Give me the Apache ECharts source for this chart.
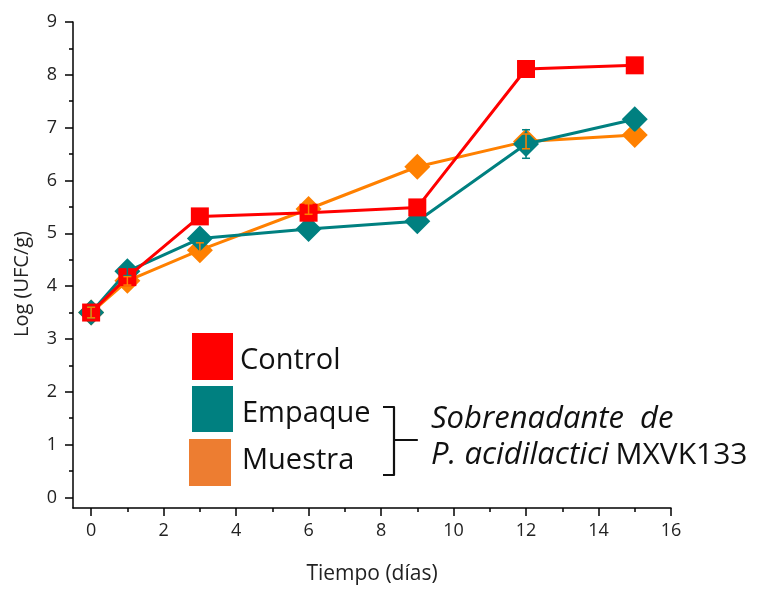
<!DOCTYPE html>
<html>
<head>
<meta charset="utf-8">
<script src="https://cdn.jsdelivr.net/npm/echarts@6/dist/echarts.min.js"></script>
<style>
  html, body { margin: 0; padding: 0; background: #fff; }
  #chart { width: 763px; height: 590px; }
</style>
</head>
<body>
<div id="chart"></div>
<script>
// Sampling days
const days = [0, 1, 3, 6, 9, 12, 15];

// Log (UFC/g) per treatment
const controlValues = [3.5, 4.17, 5.32, 5.39, 5.49, 8.11, 8.18];
const empaqueValues = [3.5, 4.28, 4.9, 5.08, 5.23, 6.69, 7.16];
const muestraValues = [3.5, 4.1, 4.68, 5.46, 6.26, 6.74, 6.86];

// Standard deviations
const controlErrors = [0.1, 0.08, 0.05, 0.08, 0.05, 0.05, 0.05];
const empaqueErrors = [0.1, 0.08, 0.1, 0.05, 0.05, 0.27, 0.05];
const muestraErrors = [0.1, 0.08, 0.14, 0.1, 0.05, 0.14, 0.05];

// Series names
const seriesNames = ['Control', 'Empaque', 'Muestra'];

// Axis ticks
const yMajor = [0, 1, 2, 3, 4, 5, 6, 7, 8, 9];
const yMinor = [0.5, 1.5, 2.5, 3.5, 4.5, 5.5, 6.5, 7.5, 8.5];
const xMajor = [0, 2, 4, 6, 8, 10, 12, 14, 16];
const xMinor = [1, 3, 5, 7, 9, 11, 13, 15];

const colors = { Control: '#FF0000', Empaque: '#008080', Muestra: '#FF8000' };
const legendColors = { Control: '#FF0000', Empaque: '#008080', Muestra: '#ED7D31' };

const FONT = '"Open Sans", "Noto Sans", sans-serif';

function pairs(vals) {
  return days.map((d, i) => [d, vals[i]]);
}
function errorRows(vals, errs) {
  return days.map((d, i) => [d, vals[i] - errs[i], vals[i] + errs[i]]);
}

function errorBarSeries(name, vals, errs) {
  return {
    type: 'custom',
    name: name + ' SD',
    xAxisIndex: 0,
    yAxisIndex: 0,
    z: 10,
    silent: true,
    data: errorRows(vals, errs),
    renderItem: function (params, api) {
      const x = api.value(0);
      const lo = api.coord([x, api.value(1)]);
      const hi = api.coord([x, api.value(2)]);
      const w = 4;
      const style = { stroke: colors[name], lineWidth: 1.5 };
      return {
        type: 'group',
        children: [
          { type: 'line', shape: { x1: lo[0], y1: lo[1], x2: hi[0], y2: hi[1] }, style: style },
          { type: 'line', shape: { x1: lo[0] - w, y1: lo[1], x2: lo[0] + w, y2: lo[1] }, style: style },
          { type: 'line', shape: { x1: hi[0] - w, y1: hi[1], x2: hi[0] + w, y2: hi[1] }, style: style }
        ]
      };
    }
  };
}

const axisLineStyle = { color: '#000', width: 1.5 };
const labelStyle = { color: '#222', fontSize: 18, fontFamily: FONT };

const option = {
  backgroundColor: '#fff',
  animation: false,
  grid: { left: 73, right: 92, top: 22, bottom: 80 },
  xAxis: [
    {
      type: 'value', min: -0.5, max: 16, position: 'bottom',
      axisLine: { show: true, onZero: false, lineStyle: axisLineStyle },
      axisTick: { show: true, length: 8, customValues: xMajor, lineStyle: axisLineStyle },
      axisLabel: Object.assign({ customValues: xMajor, margin: 14 }, labelStyle),
      splitLine: { show: false },
      name: 'Tiempo (días)', nameLocation: 'middle', nameGap: 56,
      nameTextStyle: { color: '#222', fontSize: 21, fontFamily: FONT }
    },
    {
      type: 'value', min: -0.5, max: 16, position: 'bottom',
      axisLine: { show: false, onZero: false },
      axisTick: { show: true, length: 4, customValues: xMinor, lineStyle: axisLineStyle },
      axisLabel: { show: false },
      splitLine: { show: false }
    }
  ],
  yAxis: [
    {
      type: 'value', min: -0.2, max: 9, position: 'left',
      axisLine: { show: true, onZero: false, lineStyle: axisLineStyle },
      axisTick: { show: true, length: 8, customValues: yMajor, lineStyle: axisLineStyle },
      axisLabel: Object.assign({ customValues: yMajor, margin: 16 }, labelStyle),
      splitLine: { show: false }
    },
    {
      type: 'value', min: -0.2, max: 9, position: 'left',
      axisLine: { show: false, onZero: false },
      axisTick: { show: true, length: 4, customValues: yMinor, lineStyle: axisLineStyle },
      axisLabel: { show: false },
      splitLine: { show: false }
    }
  ],
  series: [
    {
      name: seriesNames[2], type: 'line', z: 2, data: pairs(muestraValues),
      symbol: 'diamond', symbolSize: 26,
      lineStyle: { color: colors.Muestra, width: 3 },
      itemStyle: { color: colors.Muestra }
    },
    {
      name: seriesNames[1], type: 'line', z: 3, data: pairs(empaqueValues),
      symbol: 'diamond', symbolSize: 26,
      lineStyle: { color: colors.Empaque, width: 3 },
      itemStyle: { color: colors.Empaque }
    },
    {
      name: seriesNames[0], type: 'line', z: 4, data: pairs(controlValues),
      symbol: 'rect', symbolSize: 18,
      lineStyle: { color: colors.Control, width: 3 },
      itemStyle: { color: colors.Control }
    },
    errorBarSeries('Control', controlValues, controlErrors),
    errorBarSeries('Empaque', empaqueValues, empaqueErrors),
    errorBarSeries('Muestra', muestraValues, muestraErrors)
  ],
  graphic: [
    // vertical axis title
    {
      type: 'text', x: 22, y: 284, rotation: Math.PI / 2,
      style: {
        text: 'Log (UFC/g)', fill: '#222', fontSize: 20, fontFamily: FONT,
        align: 'center', verticalAlign: 'middle'
      }
    },
    // key swatches
    { type: 'rect', shape: { x: 192, y: 333, width: 41, height: 47 }, style: { fill: legendColors.Control } },
    { type: 'rect', shape: { x: 192, y: 386, width: 41, height: 46 }, style: { fill: legendColors.Empaque } },
    { type: 'rect', shape: { x: 189, y: 439, width: 42, height: 47 }, style: { fill: legendColors.Muestra } },
    // key labels
    { type: 'text', x: 240, y: 361, style: { text: seriesNames[0], fill: '#111', fontSize: 29, fontFamily: FONT, verticalAlign: 'middle' } },
    { type: 'text', x: 242, y: 414, style: { text: seriesNames[1], fill: '#111', fontSize: 29, fontFamily: FONT, verticalAlign: 'middle' } },
    { type: 'text', x: 242, y: 461, style: { text: seriesNames[2], fill: '#111', fontSize: 29, fontFamily: FONT, verticalAlign: 'middle' } },
    // brace grouping the two treatments
    {
      type: 'polyline',
      shape: { points: [[383, 407], [394, 407], [394, 440], [417, 440], [394, 440], [394, 475], [383, 475]] },
      style: { stroke: '#111', lineWidth: 2.2, fill: null, lineJoin: 'round' }
    },
    {
      type: 'text', x: 431, y: 419,
      style: { text: 'Sobrenadante  de', fill: '#111', fontSize: 31, fontStyle: 'italic', fontFamily: FONT, verticalAlign: 'middle' }
    },
    {
      type: 'text', x: 431, y: 455,
      style: {
        rich: {
          i: { fontStyle: 'italic', fontSize: 31, fontFamily: FONT, fill: '#111' },
          n: { fontSize: 30, fontFamily: FONT, fill: '#111' }
        },
        text: '{i|P. acidilactici}  {n|MXVK133}', verticalAlign: 'middle'
      }
    }
  ]
};

const chart = echarts.init(document.getElementById('chart'), null, { renderer: 'canvas' });
chart.setOption(option);
</script>
</body>
</html>
